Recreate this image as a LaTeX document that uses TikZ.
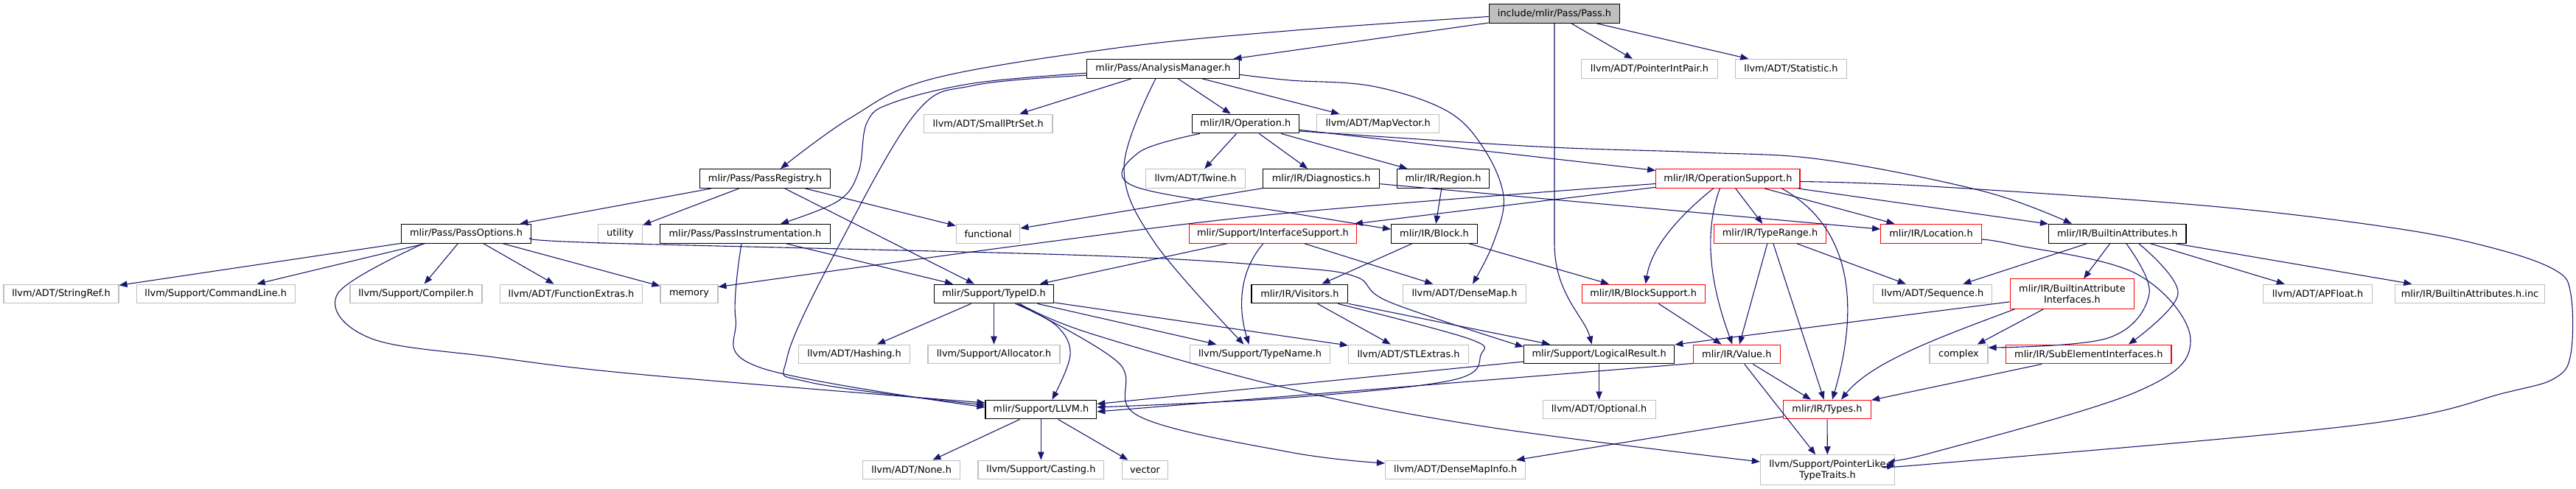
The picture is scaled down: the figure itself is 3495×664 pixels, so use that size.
\documentclass[tikz,border=0pt]{standalone}
\usepackage{fontspec}
\setmainfont{DejaVu Sans}
\usetikzlibrary{arrows.meta,calc}
\definecolor{edgec}{HTML}{191970}
\definecolor{grey75}{HTML}{BFBFBF}
\begin{document}
\begin{tikzpicture}[x=1bp,y=-1bp,
  box/.style={rectangle, draw, fill=white, line width=1.2bp, inner sep=0pt, minimum height=25.7bp, align=center, font=\fontsize{12.9bp}{15bp}\selectfont},
  docn/.style={box, draw=black},
  extn/.style={box, draw=grey75},
  trn/.style={box, draw=red},
  rootn/.style={box, draw=black, fill=grey75},
  tall/.style={minimum height=40.3bp},
  edge/.style={draw=edgec, line width=1.1bp, -{Triangle[length=11bp,width=8.5bp]}},
]
\useasboundingbox (0,0) rectangle (3495,664);

% row 0
\node[rootn, minimum width=177.5bp] (pass) at (2109,18.5) {include/mlir/Pass/Pass.h};
% row 1
\node[docn, minimum width=207bp] (am) at (1578,93.3) {mlir/Pass/AnalysisManager.h};
\node[extn, minimum width=185bp] (pip) at (2238,93.3) {llvm/ADT/PointerIntPair.h};
\node[extn, minimum width=151bp] (stat) at (2430,93.3) {llvm/ADT/Statistic.h};
% row 2
\node[extn, minimum width=174.6bp] (sps) at (1340.7,168) {llvm/ADT/SmallPtrSet.h};
\node[docn, minimum width=145bp] (op) at (1689.8,168) {mlir/IR/Operation.h};
\node[extn, minimum width=166bp] (mv) at (1869.7,168) {llvm/ADT/MapVector.h};
% row 3
\node[docn, minimum width=177.5bp] (preg) at (1038,242.5) {mlir/Pass/PassRegistry.h};
\node[extn, minimum width=134.5bp] (twine) at (1622,242.5) {llvm/ADT/Twine.h};
\node[docn, minimum width=158bp] (diag) at (1792.7,242.5) {mlir/IR/Diagnostics.h};
\node[docn, minimum width=125bp] (region) at (1958,242.5) {mlir/IR/Region.h};
\node[trn, minimum width=195.3bp] (opsup) at (2344.4,242.5) {mlir/IR/OperationSupport.h};
% row 4
\node[docn, minimum width=176bp] (popt) at (632.5,317.3) {mlir/Pass/PassOptions.h};
\node[extn, minimum width=60bp] (utility) at (841.5,317.3) {utility};
\node[docn, minimum width=231bp] (pinst) at (1011,317.3) {mlir/Pass/PassInstrumentation.h};
\node[extn, minimum width=86.5bp] (functional) at (1340.6,317.3) {functional};
\node[trn, minimum width=227bp] (ifsup) at (1726.9,317.3) {mlir/Support/InterfaceSupport.h};
\node[docn, minimum width=116.7bp] (block) at (1946,317.3) {mlir/IR/Block.h};
\node[trn, minimum width=152.4bp] (trange) at (2401.5,317.3) {mlir/IR/TypeRange.h};
\node[trn, minimum width=136.7bp] (loc) at (2620,317.3) {mlir/IR/Location.h};
\node[docn, minimum width=186.4bp] (battr) at (2872.8,317.3) {mlir/IR/BuiltinAttributes.h};
% row 5
\node[extn, minimum width=156bp] (stringref) at (83,399) {llvm/ADT/StringRef.h};
\node[extn, minimum width=214.8bp] (cmdline) at (292.7,399) {llvm/Support/CommandLine.h};
\node[extn, minimum width=179bp] (compiler) at (564.5,399) {llvm/Support/Compiler.h};
\node[extn, minimum width=193bp] (fnextras) at (775,399) {llvm/ADT/FunctionExtras.h};
\node[extn, minimum width=78bp] (memory) at (935,399) {memory};
\node[docn, minimum width=162.4bp] (typeid) at (1348.5,399) {mlir/Support/TypeID.h};
\node[docn, minimum width=130.7bp] (visitors) at (1763.4,399) {mlir/IR/Visitors.h};
\node[extn, minimum width=166.3bp] (densemap) at (1987,399) {llvm/ADT/DenseMap.h};
\node[trn, minimum width=167bp] (blocksup) at (2229.6,399) {mlir/IR/BlockSupport.h};
\node[extn, minimum width=161.3bp] (sequence) at (2622,399) {llvm/ADT/Sequence.h};
\node[trn, tall, minimum width=168.6bp] (baif) at (2811.4,399) {mlir/IR/BuiltinAttribute\\Interfaces.h};
\node[extn, minimum width=147.3bp] (apfloat) at (3144.5,399) {llvm/ADT/APFloat.h};
\node[extn, minimum width=203bp] (bainc) at (3351,399) {mlir/IR/BuiltinAttributes.h.inc};
% row 6
\node[extn, minimum width=150.7bp] (hashing) at (1159,481) {llvm/ADT/Hashing.h};
\node[extn, minimum width=179bp] (allocator) at (1348.5,481) {llvm/Support/Allocator.h};
\node[extn, minimum width=190.3bp] (typename) at (1709.5,481) {llvm/Support/TypeName.h};
\node[extn, minimum width=163bp] (stlextras) at (1911,481) {llvm/ADT/STLExtras.h};
\node[docn, minimum width=204.3bp] (logres) at (2169.6,481) {mlir/Support/LogicalResult.h};
\node[trn, minimum width=117.8bp] (value) at (2356.3,481) {mlir/IR/Value.h};
\node[extn, minimum width=79bp] (complex) at (2657.5,481) {complex};
\node[trn, minimum width=224.3bp] (subel) at (2833.8,481) {mlir/IR/SubElementInterfaces.h};
% row 7
\node[docn, minimum width=150.7bp] (llvm) at (1412.4,556) {mlir/Support/LLVM.h};
\node[extn, minimum width=153bp] (optional) at (2169.6,556) {llvm/ADT/Optional.h};
\node[trn, minimum width=119bp] (types) at (2479,556) {mlir/IR/Types.h};
% row 8
\node[extn, minimum width=131.7bp] (none) at (1236.6,638) {llvm/ADT/None.h};
\node[extn, minimum width=170.8bp] (casting) at (1412.4,638) {llvm/Support/Casting.h};
\node[extn, minimum width=62.5bp] (vector) at (1553.5,638) {vector};
\node[extn, minimum width=190.3bp] (dmi) at (1974.7,638) {llvm/ADT/DenseMapInfo.h};
\node[extn, tall, minimum width=182bp] (pltt) at (2479.4,638) {llvm/Support/PointerLike\\TypeTraits.h};

% ---- edges ----
% Pass.h
\draw[edge] (pass) -- (am);
\draw[edge] (pass) -- (pip);
\draw[edge] (pass) -- (stat);
\draw[edge] plot[smooth,tension=0.6] coordinates {($(pass.west)+(0,4)$) (1750,41.7) (1516,65) (1265,107) (1154,160) ($(preg.north)+(21,0)$)};
\draw[edge] (pass.south) -- (2109,330) .. controls (2109,400) and (2150,430) .. ($(logres.north)+(-10,0)$);
% AnalysisManager
\draw[edge] plot[smooth,tension=0.6] coordinates {($(am.west)+(0,6)$) (1321,113) (1210,140) (1176,167) (1165,233) (1137,273) ($(pinst.north)+(48,0)$)};
\draw[edge] plot[smooth,tension=0.6] coordinates {($(am.west)+(0,9)$) (1321,116) (1243,153) (1140,330) (1068,485) (1098,519) ($(llvm.west)+(0,-6)$)};
\draw[edge] (am) -- (sps);
\draw[edge] plot[smooth,tension=0.6] coordinates {($(am.south)+(-10,0)$) (1525,227) (1567,330) ($(typename.north)+(-22,0)$)};
\draw[edge] (am) -- (op);
\draw[edge] (am) -- (mv);
\draw[edge] plot[smooth,tension=0.6] coordinates {($(am.east)+(0,8)$) (1750,109) (1862,117) (1962,150) (2012,200) (2040,267) (2026,330) ($(densemap.north)+(11,0)$)};
% PassRegistry
\draw[edge] (preg) -- (popt);
\draw[edge] (preg) -- (utility);
\draw[edge] (preg) -- (functional);
\draw[edge] (preg) -- (typeid);
% Operation
\draw[edge] (op) -- (twine);
\draw[edge] (op) -- (region);
\draw[edge] (op) -- (diag);
\draw[edge] (op) -- (opsup);
\draw[edge] plot[smooth,tension=0.6] coordinates {($(op.east)+(0,10)$) (2085,199) (2308,207) (2475,217) (2692,260) ($(battr.north)+(-62,0)$)};
\draw[edge] plot[smooth,tension=0.6] coordinates {($(op.south)+(-62,0)$) (1545,207) (1539,253) (1750,289) ($(block.west)+(0,-6)$)};
% PassInstrumentation
\draw[edge] (pinst) -- (typeid);
\draw[edge] plot[smooth,tension=0.6] coordinates {($(pinst.south)+(-5,0)$) (998,432) (1031,499) ($(llvm.west)+(0,-3)$)};
% PassOptions
\draw[edge] (popt) -- (stringref);
\draw[edge] (popt) -- (cmdline);
\draw[edge] plot[smooth,tension=0.6] coordinates {($(popt.south)+(-58,0)$) (458,399) (502,459) (670,485) (875,509) ($(llvm.west)+(0,-9)$)};
\draw[edge] (popt) -- (compiler);
\draw[edge] (popt) -- (fnextras);
\draw[edge] (popt) -- (memory);
\draw[edge] plot[smooth,tension=0.6] coordinates {($(popt.east)+(0,6)$) (820,330) (1480,347) (1750,363) (1840,376) (1885,410) ($(logres.west)+(0,-10)$)};
% OperationSupport
\draw[edge] plot[smooth,tension=0.6] coordinates {($(opsup.west)+(0,7)$) (1750,289) (1394,332) ($(memory.north east)+(0,4)$)};
\draw[edge] (opsup) -- (ifsup);
\draw[edge] (opsup) -- (trange);
\draw[edge] (opsup) -- (loc);
\draw[edge] (opsup) -- (battr);
\draw[edge] ($(opsup.south)+(-20,0)$) .. controls (2270,300) and (2240,340) .. ($(blocksup.north)+(3,0)$);
\draw[edge] ($(opsup.south)+(-11,0)$) .. controls (2310,320) and (2322,390) .. ($(value.north)+(-6,0)$);
\draw[edge] ($(opsup.south)+(73,0)$) .. controls (2515,310) and (2522,420) .. ($(types.north)+(7,0)$);
\draw[edge] plot[smooth,tension=0.6] coordinates {($(opsup.east)+(0,4)$) (2620,253) (3000,280) (3250,310) (3383,337) (3467,367) (3488,400) (3488,480) (3467,513) (3400,533) (3200,577) (2620,630) ($(pltt.east)+(0,-6)$)};
% InterfaceSupport
\draw[edge] (ifsup) -- (typeid);
\draw[edge] ($(ifsup.south)+(-13,0)$) .. controls (1680,370) and (1680,420) .. ($(typename.north)+(-15,0)$);
\draw[edge] (ifsup) -- (densemap);
% Block, Region, Diagnostics
\draw[edge] (block) -- (visitors);
\draw[edge] (block) -- (blocksup);
\draw[edge] (region) -- (block);
\draw[edge] (diag) -- (functional);
\draw[edge] (diag) -- (loc);
% TypeRange
\draw[edge] (trange) -- (value);
\draw[edge] (trange) -- (sequence);
\draw[edge] (trange) -- (types);
% Location
\draw[edge] plot[smooth,tension=0.6] coordinates {($(loc.east)+(0,8)$) (2731,332) (2899,372) (2972,462) (2899,532) (2620,615) ($(pltt.east)+(0,-16)$)};
% BuiltinAttributes
\draw[edge] (battr) -- (sequence);
\draw[edge] (battr) -- (baif);
\draw[edge] plot[smooth,tension=0.6] coordinates {($(battr.south)+(12,0)$) (2916,399) (2860,459) ($(complex.east)+(0,-9)$)};
\draw[edge] plot[smooth,tension=0.6] coordinates {($(battr.south)+(29,0)$) (2955,399) ($(subel.north)+(54,0)$)};
\draw[edge] (battr) -- (apfloat);
\draw[edge] (battr) -- (bainc);
% BuiltinAttributeInterfaces
\draw[edge] (baif) -- (logres);
\draw[edge] ($(baif.south west)+(7,0)$) .. controls (2640,455) and (2540,490) .. ($(types.north)+(19,0)$);
\draw[edge] (baif) -- (complex);
\draw[edge] (subel) -- (types);
% TypeID
\draw[edge] (typeid) -- (hashing);
\draw[edge] (typeid) -- (allocator);
\draw[edge] plot[smooth,tension=0.6] coordinates {($(typeid.south)+(29,0)$) (1433,442) (1452,482) ($(llvm.north)+(15,0)$)};
\draw[edge] (typeid) -- (typename);
\draw[edge] (typeid) -- (stlextras);
\draw[edge] plot[smooth,tension=0.6] coordinates {($(typeid.south)+(32,0)$) (1517,492) (1545,565) (1750,614) ($(dmi.west)+(0,-9)$)};
\draw[edge] plot[smooth,tension=0.6] coordinates {($(typeid.south)+(35,0)$) (1480,453) (1750,528) (2020,580) ($(pltt.west)+(0,-11)$)};
% Visitors
\draw[edge] (visitors) -- (stlextras);
\draw[edge] (visitors) -- (logres);
\draw[edge] plot[smooth,tension=0.6] coordinates {($(visitors.south)+(52,0)$) (1993,460) (2009,482) (1971,516) (1750,540) ($(llvm.east)+(0,-3)$)};
% LogicalResult
\draw[edge] (logres) -- (llvm);
\draw[edge] (logres) -- (optional);
% Value
\draw[edge] ($(value.south west)+(0,-1)$) -- ($(llvm.east)+(0,3)$);
\draw[edge] (value) -- (types);
\draw[edge] (value) -- (pltt);
% Types
\draw[edge] (types) -- (dmi);
\draw[edge] (types) -- (pltt);
% BlockSupport
\draw[edge] (blocksup) -- (value);
% LLVM
\draw[edge] (llvm) -- (none);
\draw[edge] (llvm) -- (casting);
\draw[edge] (llvm) -- (vector);
\end{tikzpicture}
\end{document}
